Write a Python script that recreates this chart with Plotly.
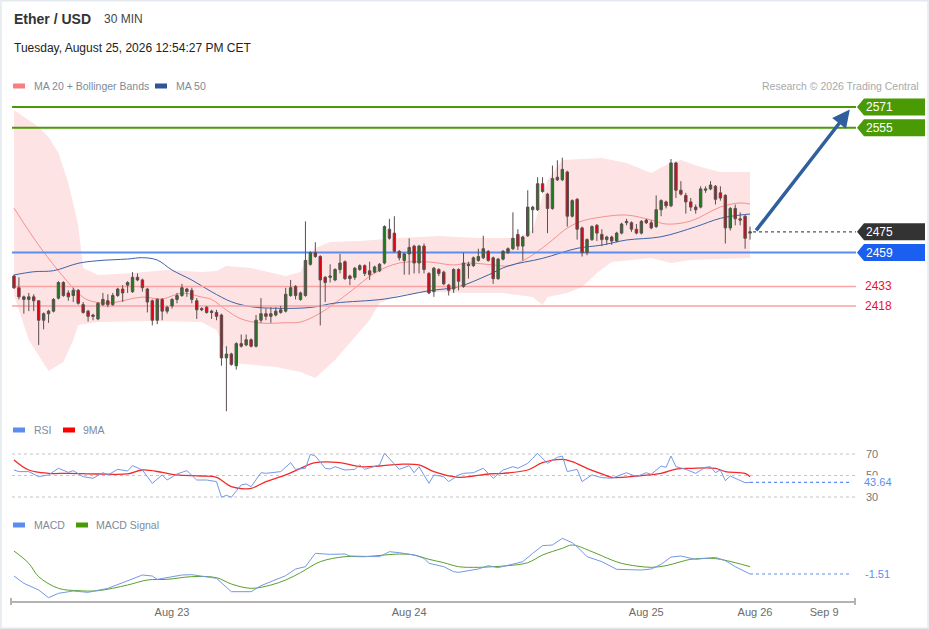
import plotly.graph_objects as go

W, H = 929, 629

# 30 min candles (index 0 .. 149)
opens = [2441, 2432, 2425, 2423, 2425, 2422, 2407, 2412, 2414, 2424,
         2436, 2428, 2426, 2430, 2419, 2414, 2411, 2408, 2419, 2422,
         2419, 2426, 2431, 2434, 2429, 2440, 2438, 2431, 2422, 2407,
         2423, 2414, 2418, 2423, 2426, 2431, 2430, 2422, 2416, 2417,
         2414, 2413, 2411, 2378, 2381, 2372, 2389, 2388, 2392, 2387,
         2407, 2412, 2410, 2411, 2413, 2414, 2426, 2433, 2423, 2426,
         2450, 2459, 2456, 2440, 2440, 2438, 2446, 2452, 2441, 2440,
         2446, 2449, 2445, 2444, 2445, 2451, 2477, 2474, 2460, 2453,
         2458, 2464, 2451, 2464, 2443, 2429, 2446, 2444, 2434, 2431,
         2446, 2433, 2449, 2449, 2453, 2455, 2460, 2455, 2439, 2454,
         2459, 2462, 2473, 2464, 2472, 2492, 2492, 2512, 2504, 2493,
         2517, 2515, 2521, 2487, 2500, 2478, 2459, 2469, 2480, 2473,
         2469, 2471, 2468, 2474, 2482, 2482, 2477, 2474, 2484, 2482,
         2479, 2492, 2498, 2495, 2528, 2507, 2503, 2498, 2494, 2494,
         2507, 2508, 2510, 2505, 2503, 2478, 2493, 2485, 2487, 2474]
highs = [2442, 2440, 2426, 2428, 2427, 2422, 2413, 2415, 2424, 2437,
         2437, 2430, 2432, 2431, 2421, 2415, 2412, 2421, 2428, 2427,
         2428, 2432, 2434, 2437, 2444, 2443, 2439, 2432, 2423, 2424,
         2424, 2418, 2424, 2428, 2435, 2432, 2432, 2424, 2417, 2418,
         2415, 2415, 2412, 2387, 2382, 2390, 2396, 2396, 2393, 2411,
         2424, 2416, 2417, 2417, 2418, 2432, 2438, 2434, 2429, 2483,
         2460, 2467, 2457, 2441, 2450, 2447, 2458, 2453, 2442, 2448,
         2450, 2450, 2452, 2449, 2451, 2480, 2485, 2487, 2461, 2459,
         2470, 2465, 2465, 2466, 2444, 2448, 2447, 2445, 2435, 2447,
         2447, 2459, 2452, 2456, 2462, 2472, 2461, 2456, 2455, 2461,
         2463, 2490, 2477, 2472, 2507, 2495, 2517, 2517, 2505, 2526,
         2530, 2532, 2522, 2500, 2501, 2479, 2470, 2480, 2481, 2477,
         2472, 2472, 2475, 2482, 2485, 2483, 2481, 2484, 2485, 2484,
         2503, 2500, 2499, 2531, 2529, 2514, 2505, 2501, 2496, 2510,
         2510, 2514, 2511, 2510, 2504, 2494, 2496, 2490, 2488, 2479]
lows = [2431, 2423, 2412, 2414, 2414, 2388, 2400, 2405, 2413, 2423,
        2425, 2422, 2421, 2419, 2412, 2406, 2407, 2407, 2418, 2417,
        2418, 2425, 2421, 2428, 2428, 2437, 2429, 2413, 2403, 2404,
        2407, 2412, 2416, 2420, 2425, 2425, 2420, 2408, 2414, 2412,
        2408, 2407, 2372, 2337, 2372, 2369, 2386, 2387, 2386, 2386,
        2405, 2407, 2405, 2410, 2412, 2413, 2425, 2423, 2422, 2425,
        2449, 2455, 2403, 2421, 2436, 2437, 2443, 2438, 2434, 2438,
        2445, 2441, 2438, 2443, 2444, 2450, 2469, 2459, 2453, 2442,
        2442, 2443, 2443, 2443, 2427, 2425, 2441, 2434, 2426, 2428,
        2430, 2432, 2439, 2448, 2452, 2454, 2452, 2435, 2438, 2453,
        2458, 2461, 2461, 2453, 2471, 2474, 2491, 2505, 2474, 2492,
        2514, 2514, 2479, 2486, 2469, 2456, 2457, 2468, 2468, 2464,
        2465, 2465, 2467, 2473, 2480, 2475, 2473, 2473, 2481, 2477,
        2478, 2487, 2493, 2494, 2501, 2503, 2489, 2491, 2489, 2493,
        2505, 2507, 2496, 2499, 2466, 2476, 2480, 2480, 2462, 2469]
closes = [2432, 2425, 2423, 2425, 2422, 2407, 2412, 2414, 2423, 2436,
          2426, 2425, 2430, 2420, 2413, 2410, 2410, 2420, 2423, 2419,
          2426, 2431, 2428, 2436, 2440, 2438, 2432, 2421, 2407, 2423,
          2414, 2417, 2423, 2426, 2432, 2429, 2423, 2415, 2415, 2413,
          2413, 2410, 2378, 2381, 2373, 2389, 2387, 2392, 2387, 2407,
          2412, 2410, 2412, 2414, 2415, 2427, 2432, 2426, 2428, 2453,
          2459, 2456, 2438, 2436, 2441, 2446, 2451, 2439, 2439, 2447,
          2449, 2443, 2442, 2448, 2450, 2479, 2470, 2460, 2455, 2458,
          2463, 2451, 2464, 2446, 2428, 2447, 2443, 2435, 2430, 2446,
          2437, 2451, 2450, 2455, 2456, 2462, 2453, 2439, 2454, 2460,
          2462, 2470, 2464, 2471, 2494, 2494, 2512, 2506, 2493, 2516,
          2515, 2523, 2487, 2499, 2477, 2459, 2469, 2479, 2474, 2469,
          2471, 2468, 2474, 2481, 2483, 2477, 2474, 2483, 2482, 2478,
          2492, 2499, 2495, 2528, 2507, 2504, 2498, 2494, 2492, 2508,
          2508, 2511, 2500, 2501, 2478, 2493, 2485, 2484, 2470, 2475]
bars = list(range(len(closes)))

# MA 20 + Bollinger Bands, MA 50 (samples at candle index)
ma20_idx = [0, 6, 13, 15, 19, 26, 30, 34, 38, 40, 43, 46, 50, 55, 58, 62, 68, 73, 78,
            84, 89, 92, 97, 100, 102, 105, 109, 112, 115, 119, 124, 129, 132, 137,
            143, 147, 149]
ma20 = [2493.3, 2459.5, 2427.9, 2422.5, 2420.2, 2424.8, 2423.3, 2427.9, 2424.8,
        2423.0, 2414.8, 2408.0, 2404.8, 2405.1, 2405.6, 2412.5, 2428.7, 2443.3,
        2451.0, 2451.8, 2449.5, 2451.0, 2449.5, 2448.7, 2451.0, 2457.2, 2468.7,
        2477.9, 2483.3, 2486.4, 2487.9, 2484.1, 2481.0, 2483.3, 2494.1, 2497.2,
        2496.4]
bbu_idx = [0, 5, 7, 9, 11, 13, 14, 17, 24, 31, 38, 41, 43, 48, 55, 58, 59, 61, 64,
           70, 78, 86, 94, 102, 105, 108, 111, 119, 124, 129, 132, 135, 139, 143, 149]
bbu = [2568.7, 2555.6, 2547.9, 2535.6, 2512.5, 2480.2, 2447.1, 2441.8, 2443.3,
       2445.6, 2444.1, 2444.8, 2448.7, 2447.1, 2441.0, 2444.1, 2451.8, 2462.5,
       2467.2, 2467.9, 2470.2, 2471.8, 2470.2, 2470.2, 2476.4, 2514.8, 2530.2,
       2531.8, 2527.9, 2520.2, 2526.4, 2530.2, 2524.8, 2521.0, 2521.0]
bbl_idx = [0, 3, 7, 10, 12, 13, 17, 28, 38, 41, 44, 48, 53, 58, 61, 65, 68, 72, 74,
           78, 85, 92, 99, 105, 107, 108, 112, 115, 118, 121, 129, 133, 137, 143, 149]
bbl = [2426.4, 2391.8, 2367.9, 2374.8, 2391.8, 2403.3, 2405.6, 2406.4, 2405.6,
       2399.5, 2374.2, 2372.6, 2371.1, 2367.2, 2362.5, 2376.4, 2389.5, 2407.2,
       2420.2, 2426.4, 2428.7, 2427.9, 2427.9, 2424.8, 2418.7, 2424.8, 2427.9,
       2432.5, 2443.3, 2451.8, 2454.8, 2451.0, 2453.3, 2454.1, 2454.8]
ma50_idx = [0, 4, 8, 13, 17, 23, 26, 29, 32, 36, 40, 44, 48, 53, 60, 65, 75, 84, 90,
            96, 100, 107, 114, 119, 124, 131, 138, 143, 147, 149]
ma50 = [2441.8, 2444.3, 2445.1, 2450.8, 2452.8, 2454.1, 2455.1, 2453.3, 2445.6,
        2437.9, 2428.9, 2421.2, 2417.4, 2416.2, 2416.8, 2420.2, 2423.3, 2429.7,
        2432.8, 2441.8, 2448.7, 2454.6, 2462.3, 2464.8, 2468.7, 2471.2, 2478.9,
        2485.4, 2487.9, 2488.7]

# RSI and its 9MA
rsi_idx = [0, 1, 3, 5, 7, 9, 11, 12, 14, 16, 18, 19, 21, 23, 24, 26, 28, 30, 31, 33,
           35, 37, 39, 41, 42, 43, 44, 46, 47, 48, 50, 51, 54, 56, 57, 59, 60, 61, 63,
           64, 65, 67, 69, 70, 71, 74, 75, 77, 78, 80, 81, 82, 84, 85, 87, 88, 90, 91,
           93, 95, 97, 99, 101, 102, 104, 105, 106, 108, 110, 111, 112, 114, 115, 117,
           119, 121, 124, 126, 128, 129, 131, 132, 133, 134, 136, 138, 140, 141, 142,
           143, 144, 145, 147, 148, 149]
rsi = [55.1, 53.6, 53.6, 48.9, 50.5, 56.7, 52.9, 54.5, 48.9, 47.4,
       52.6, 50.5, 55.7, 54.2, 59.1, 55.1, 42.7, 50.5, 45.8, 51.4,
       54.5, 45.8, 45.8, 44.3, 29.7, 31.6, 29.7, 41.2, 42.1, 39.6,
       52.6, 52.0, 53.6, 61.9, 55.7, 56.7, 69.7, 68.1, 56.7, 56.0,
       58.2, 55.1, 55.7, 59.8, 55.7, 59.8, 70.6, 61.3, 55.7, 59.1,
       52.6, 58.2, 42.7, 50.5, 48.9, 44.3, 50.5, 52.0, 52.6, 56.7,
       47.4, 55.1, 58.2, 56.7, 61.3, 66.0, 70.6, 61.3, 66.9, 68.1,
       53.6, 55.7, 44.3, 50.5, 48.0, 47.4, 52.6, 48.9, 52.6, 51.1,
       58.8, 57.6, 68.1, 58.2, 55.7, 52.0, 57.6, 58.2, 52.6, 55.1,
       45.2, 49.5, 45.8, 43.3, 43.64]
rsi_ma_idx = [0, 3, 7, 11, 17, 23, 26, 30, 33, 38, 41, 44, 48, 51, 55, 58, 61, 66, 70,
              74, 78, 82, 85, 90, 93, 96, 99, 104, 107, 111, 113, 116, 119, 121, 126,
              131, 134, 137, 142, 144, 148, 149]
rsi_ma = [64.4, 55.1, 52.0, 52.0, 51.4, 51.4, 55.1, 52.9, 50.5, 49.5,
          48.3, 39.6, 38.1, 44.3, 50.5, 56.7, 61.9, 61.9, 58.2, 58.8,
          60.4, 59.8, 53.6, 48.3, 49.5, 51.4, 52.0, 55.1, 61.9, 65.0,
          62.9, 56.7, 51.4, 48.3, 49.5, 52.0, 56.0, 56.7, 56.7, 53.6,
          52.0, 48.9]

# MACD and signal
macd_idx = [0, 2, 5, 7, 9, 12, 15, 19, 22, 26, 28, 29, 34, 36, 41, 44, 48, 50, 55, 57,
            59, 61, 64, 67, 68, 71, 74, 76, 78, 81, 83, 84, 87, 89, 90, 94, 96, 98, 100,
            103, 105, 107, 109, 111, 113, 114, 116, 119, 122, 124, 127, 129, 131, 133,
            135, 138, 142, 144, 146, 149]
macd = [-2.31, -5.24, -7.91, -10.98, -9.24, -8.31, -8.84, -7.24, -4.98, -1.91,
        -2.31, -3.64, -1.91, -1.78, -3.24, -8.58, -8.58, -6.18, -2.18, 0.49,
        1.42, 6.76, 6.36, 6.49, 5.69, 5.42, 5.42, 7.42, 7.02, 6.09,
        4.76, 2.76, 1.42, -0.58, -0.84, 0.49, 1.82, 1.02, 2.09, 3.42,
        6.76, 9.82, 10.09, 12.76, 11.02, 9.42, 5.42, 3.42, 0.36, 0.36,
        0.09, 0.49, 2.36, 5.29, 5.69, 4.36, 5.16, 3.82, 1.42, -1.51]
sig_idx = [0, 3, 5, 9, 13, 17, 23, 27, 31, 36, 41, 44, 48, 52, 55, 58, 62, 67, 71, 75,
           78, 81, 84, 87, 90, 94, 97, 100, 104, 107, 111, 113, 117, 121, 123, 126,
           129, 132, 135, 137, 141, 143, 146, 149]
sig = [7.69, 2.76, -2.58, -7.24, -8.18, -8.18, -5.91, -3.91, -3.64, -2.58,
       -2.98, -5.51, -7.24, -5.91, -3.91, -0.98, 3.42, 5.42, 5.42, 6.09,
       6.49, 6.09, 4.36, 3.02, 1.42, 1.16, 1.42, 1.82, 3.02, 6.09,
       8.76, 10.09, 7.42, 4.09, 2.76, 1.69, 1.16, 1.82, 3.42, 4.36,
       4.76, 4.36, 3.02, 1.42]

# levels
resistances = [2571, 2555]
support = 2459
pivots = [2433, 2418]
last_price = 2475
target = 2569
rsi_levels = [70, 50, 30]

tick_pos = [32, 80, 128, 150, 164]
tick_txt = ["Aug 23", "Aug 24", "Aug 25", "Aug 26", "Sep 9"]

FONT = "Liberation Sans, Arial, sans-serif"
GREEN = "#4a9a06"
BLUE_LVL = "#5b8def"
X_RANGE = [-0.4, 170.45]
Y_MAIN = [2334.1, 2576.4]
Y_RSI = [17.9, 83.0]
Y_MACD = [-12.31, 14.09]


def px(x):
    return x / W


def py(y):
    return 1 - y / H


DOM_MAIN = [py(415), py(100)]
DOM_RSI = [py(510), py(440)]
DOM_MACD = [py(601), py(535)]


def to_paper(v, rng, dom):
    return dom[0] + (v - rng[0]) / (rng[1] - rng[0]) * (dom[1] - dom[0])


fig = go.Figure()

# bollinger band area
fig.add_trace(go.Scatter(x=bbu_idx + bbl_idx[::-1], y=bbu + bbl[::-1],
                         fill="toself", fillcolor="#fde3e3", mode="lines",
                         line=dict(width=0), hoverinfo="skip",
                         xaxis="x", yaxis="y"))
fig.add_trace(go.Scatter(x=ma20_idx, y=ma20, mode="lines",
                         line=dict(color="#f7908f", width=1, shape="spline"),
                         xaxis="x", yaxis="y"))
fig.add_trace(go.Scatter(x=ma50_idx, y=ma50, mode="lines",
                         line=dict(color="#3d63a8", width=1, shape="spline"),
                         xaxis="x", yaxis="y"))

# horizontal levels
for lv in resistances:
    fig.add_trace(go.Scatter(x=X_RANGE, y=[lv, lv], mode="lines",
                             line=dict(color=GREEN, width=2), xaxis="x", yaxis="y"))
fig.add_trace(go.Scatter(x=X_RANGE, y=[support, support], mode="lines",
                         line=dict(color=BLUE_LVL, width=2), xaxis="x", yaxis="y"))
for lv in pivots:
    fig.add_trace(go.Scatter(x=X_RANGE, y=[lv, lv], mode="lines",
                             line=dict(color="#f9a3a3", width=1.5), xaxis="x", yaxis="y"))
fig.add_trace(go.Scatter(x=[bars[-1] + 0.6, X_RANGE[1]], y=[last_price, last_price],
                         mode="lines", line=dict(color="#555", width=1.3, dash="dot"),
                         xaxis="x", yaxis="y"))

# candles on an overlaid axis so they sit above the band
fig.add_trace(go.Candlestick(x=bars, open=opens, high=highs, low=lows, close=closes,
                             increasing=dict(fillcolor="#1f7a1f",
                                             line=dict(color="#5b4f4f", width=1)),
                             decreasing=dict(fillcolor="#e3000f",
                                             line=dict(color="#5b4f4f", width=1)),
                             whiskerwidth=0, xaxis="x", yaxis="y4"))

# RSI panel
for lv in rsi_levels:
    fig.add_trace(go.Scatter(x=X_RANGE, y=[lv, lv], mode="lines",
                             line=dict(color="#c4c4c4", width=1, dash="dot"),
                             xaxis="x2", yaxis="y2"))
fig.add_trace(go.Scatter(x=rsi_ma_idx, y=rsi_ma, mode="lines",
                         line=dict(color="#f22a2a", width=1.3, shape="spline"),
                         xaxis="x2", yaxis="y2"))
fig.add_trace(go.Scatter(x=rsi_idx, y=rsi, mode="lines",
                         line=dict(color="#7598e6", width=1),
                         xaxis="x2", yaxis="y2"))
fig.add_trace(go.Scatter(x=[rsi_idx[-1], X_RANGE[1] - 1], y=[rsi[-1], rsi[-1]],
                         mode="lines", line=dict(color="#5b8def", width=1.2, dash="dot"),
                         xaxis="x2", yaxis="y2"))

# MACD panel
fig.add_trace(go.Scatter(x=sig_idx, y=sig, mode="lines",
                         line=dict(color="#5aa02c", width=1, shape="spline"),
                         xaxis="x3", yaxis="y3"))
fig.add_trace(go.Scatter(x=macd_idx, y=macd, mode="lines",
                         line=dict(color="#7598e6", width=1),
                         xaxis="x3", yaxis="y3"))
fig.add_trace(go.Scatter(x=[macd_idx[-1], X_RANGE[1] - 1], y=[macd[-1], macd[-1]],
                         mode="lines", line=dict(color="#5b8def", width=1.2, dash="dot"),
                         xaxis="x3", yaxis="y3"))

xdom = [px(12), px(856)]
hidden = dict(visible=False, showgrid=False, zeroline=False, fixedrange=True)
fig.update_layout(
    width=W, height=H,
    margin=dict(l=0, r=0, t=0, b=0),
    paper_bgcolor="white", plot_bgcolor="rgba(0,0,0,0)",
    showlegend=False, hovermode=False,
    font=dict(family=FONT),
    xaxis=dict(domain=xdom, range=X_RANGE, anchor="y", rangeslider=dict(visible=False),
               **hidden),
    xaxis2=dict(domain=xdom, range=X_RANGE, anchor="y2", matches="x", **hidden),
    xaxis3=dict(domain=xdom, range=X_RANGE, anchor="y3", matches="x",
                showgrid=False, zeroline=False, showline=True, linecolor="#b3b3b3",
                linewidth=2, ticks="", tickvals=tick_pos, ticktext=tick_txt,
                tickfont=dict(size=11, color="#6b6b6b", family=FONT)),
    yaxis=dict(domain=DOM_MAIN, range=Y_MAIN, anchor="x", **hidden),
    yaxis4=dict(domain=DOM_MAIN, range=Y_MAIN, anchor="x", overlaying="y", **hidden),
    yaxis2=dict(domain=DOM_RSI, range=Y_RSI, anchor="x2", **hidden),
    yaxis3=dict(domain=DOM_MACD, range=Y_MACD, anchor="x3", **hidden),
)

shapes = []
annotations = []


def text(x, y, s, size=11, color="#7d8b99", anchor="left", bg=None):
    d = dict(xref="paper", yref="paper", x=px(x), y=py(y), text=s, showarrow=False,
             xanchor=anchor, yanchor="middle",
             font=dict(size=size, color=color, family=FONT))
    if bg:
        d["bgcolor"] = bg
        d["borderpad"] = 0
    annotations.append(d)


def swatch(x, y, color):
    shapes.append(dict(type="rect", xref="paper", yref="paper",
                       x0=px(x), x1=px(x + 12), y0=py(y + 2.5), y1=py(y - 2.5),
                       fillcolor=color, line=dict(width=0)))


# header
text(12, 19, "<b>Ether / USD</b>", size=14, color="#333333")
text(102, 19, "30 MIN", size=12, color="#444444")
text(12, 48, "Tuesday, August 25, 2026 12:54:27 PM CET", size=12, color="#222222")
swatch(13, 86, "#f77f7f")
text(32, 86, "MA 20 + Bollinger Bands", size=10.5)
swatch(155, 86, "#2f5597")
text(174, 86, "MA 50", size=10.5)
text(921, 86, "Research © 2026 Trading Central", size=10.5, color="#a9a9a9",
     anchor="right")
swatch(13, 430, "#5b8def")
text(32, 430, "RSI", size=10.5)
swatch(63, 430, "#ff0000")
text(81, 430, "9MA", size=10.5)
swatch(13, 525, "#5b8def")
text(32, 525, "MACD", size=10.5)
swatch(76, 525, "#4a9a06")
text(94, 525, "MACD Signal", size=10.5)


def price_tag(level, color):
    yc = to_paper(level, Y_MAIN, DOM_MAIN)
    hh = 8.5 / H
    x0, x1, x2 = px(857), px(864), px(925)
    shapes.append(dict(type="path", xref="paper", yref="paper",
                       path=f"M {x0} {yc} L {x1} {yc + hh} L {x2} {yc + hh} "
                            f"L {x2} {yc - hh} L {x1} {yc - hh} Z",
                       fillcolor=color, line=dict(width=0)))
    annotations.append(dict(xref="paper", yref="paper", x=px(864), y=yc,
                            text=str(level), showarrow=False, xanchor="left",
                            yanchor="middle",
                            font=dict(size=12, color="white", family=FONT)))


for lv in resistances:
    price_tag(lv, GREEN)
price_tag(last_price, "#333333")
price_tag(support, "#1a5ff0")
for lv in pivots:
    annotations.append(dict(xref="paper", yref="paper", x=px(863),
                            y=to_paper(lv, Y_MAIN, DOM_MAIN), text=str(lv),
                            showarrow=False, xanchor="left", yanchor="middle",
                            font=dict(size=12, color="#e8141c", family=FONT)))

# RSI / MACD value labels
for lv in rsi_levels:
    annotations.append(dict(xref="paper", yref="paper", x=px(864),
                            y=to_paper(lv, Y_RSI, DOM_RSI), text=str(lv),
                            showarrow=False, xanchor="left", yanchor="middle",
                            font=dict(size=11, color="#777777", family=FONT)))
annotations.append(dict(xref="paper", yref="paper", x=px(863),
                        y=to_paper(rsi[-1], Y_RSI, DOM_RSI), text=f"{rsi[-1]:.2f}",
                        showarrow=False, xanchor="left", yanchor="middle",
                        bgcolor="white", borderpad=0,
                        font=dict(size=11, color="#5b8def", family=FONT)))
annotations.append(dict(xref="paper", yref="paper", x=px(863),
                        y=to_paper(macd[-1], Y_MACD, DOM_MACD), text=f"{macd[-1]:.2f}",
                        showarrow=False, xanchor="left", yanchor="middle",
                        font=dict(size=11, color="#5b8def", family=FONT)))

# forecast arrow
annotations.append(dict(xref="x", yref="y", x=169.2, y=target,
                        axref="x", ayref="y", ax=bars[-1] + 1.0, ay=last_price,
                        text="", showarrow=True, arrowhead=2, arrowsize=1,
                        arrowwidth=3.5, arrowcolor="#2f5f9e", standoff=0))

# small end marks on the time axis
for xe in (11, 855):
    shapes.append(dict(type="line", xref="paper", yref="paper",
                       x0=px(xe), x1=px(xe), y0=py(605), y1=py(598),
                       line=dict(color="#b3b3b3", width=2)))

# frame
shapes.append(dict(type="rect", xref="paper", yref="paper", x0=0.001, x1=0.999,
                   y0=0.001, y1=0.999, line=dict(color="#e3e9ee", width=1.5)))

fig.update_layout(shapes=shapes, annotations=annotations)

# the page keeps a default body margin; drop it so the figure fills the window
fig.write_html("out.html", config={"displayModeBar": False},
               post_script="document.body.style.margin='0';"
                           "document.body.style.overflow='hidden';")
